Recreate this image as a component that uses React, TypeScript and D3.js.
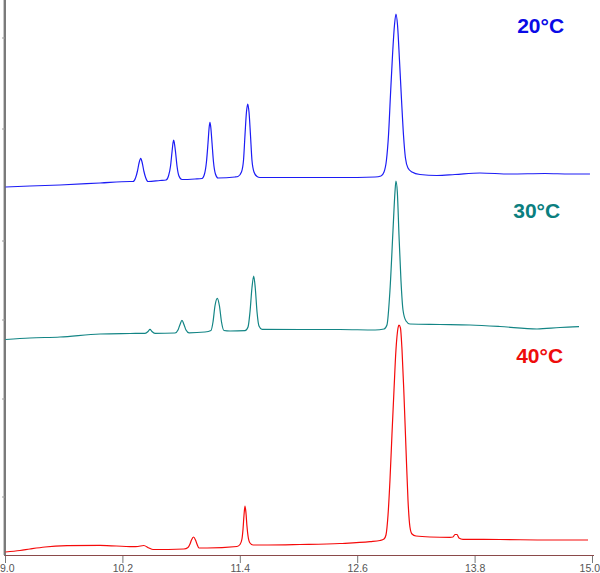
import React from "react";
import * as d3 from "d3";

// Retention time (min) / detector signal pairs
const trace20: [number, number][] = [
  [9.0, 368], [9.25, 369], [9.557, 370], [9.966, 372], [10.273, 373.5], [10.303, 373.5],
  [10.329, 377], [10.349, 384], [10.365, 392], [10.382, 396.7], [10.398, 392], [10.414, 384],
  [10.434, 377], [10.457, 373.5], [10.579, 374.5], [10.641, 375], [10.666, 379], [10.687, 389],
  [10.702, 403], [10.712, 412], [10.719, 415], [10.726, 412], [10.738, 403], [10.753, 389],
  [10.773, 379], [10.804, 375.5], [10.937, 376], [11.008, 376.5], [11.034, 381], [11.054, 393],
  [11.07, 412], [11.082, 428], [11.09, 432.7], [11.098, 428], [11.111, 412], [11.126, 393],
  [11.146, 381], [11.172, 377], [11.346, 378], [11.376, 378.5], [11.412, 383], [11.433, 395],
  [11.448, 420], [11.463, 443], [11.476, 451], [11.489, 443], [11.504, 420], [11.519, 395],
  [11.54, 383], [11.571, 378.5], [11.601, 377.5], [12.01, 377.5], [12.419, 377.5], [12.777, 378],
  [12.838, 379], [12.869, 383], [12.894, 395], [12.915, 420], [12.935, 460], [12.956, 500],
  [12.976, 530], [12.991, 541], [13.007, 530], [13.027, 495], [13.048, 455], [13.068, 420],
  [13.088, 397], [13.114, 387], [13.155, 383], [13.237, 380.5], [13.41, 379.5], [13.594, 380.5],
  [13.85, 382], [14.157, 381], [14.514, 381.5], [14.77, 381], [14.974, 381],
];

const trace30: [number, number][] = [
  [9.0, 215.5], [9.25, 217], [9.557, 218], [9.966, 221], [10.273, 221.5], [10.426, 221.7],
  [10.457, 223.5], [10.477, 225.7], [10.497, 223.5], [10.528, 221.7], [10.733, 222], [10.763, 225],
  [10.784, 230.5], [10.804, 234.7], [10.824, 230.5], [10.845, 225], [10.876, 222.2], [11.039, 223],
  [11.1, 224.5], [11.121, 233], [11.141, 249], [11.165, 256.7], [11.187, 249], [11.208, 233],
  [11.233, 224.5], [11.295, 224], [11.448, 224.3], [11.479, 228], [11.499, 243], [11.519, 267],
  [11.537, 279], [11.553, 267], [11.571, 243], [11.591, 229], [11.622, 225.7], [12.01, 225.5],
  [12.419, 225.5], [12.777, 225], [12.869, 226], [12.899, 230], [12.93, 265], [12.961, 325],
  [12.981, 363], [12.991, 374], [13.005, 363], [13.022, 320], [13.042, 275], [13.063, 245],
  [13.094, 234], [13.134, 231], [13.441, 230.5], [13.748, 230], [14.054, 228.5], [14.433, 226],
  [14.668, 227.5], [14.862, 228.3],
];

const trace40: [number, number][] = [
  [9.0, 3], [9.148, 4.5], [9.25, 6], [9.404, 8], [9.629, 9.3], [9.966, 9.7], [10.303, 8.3],
  [10.354, 8.5], [10.413, 9.5], [10.467, 7], [10.508, 5.5], [10.824, 6], [10.865, 7.5],
  [10.886, 11], [10.901, 15], [10.922, 18], [10.942, 15], [10.957, 11], [10.978, 7], [11.06, 7],
  [11.366, 8.5], [11.397, 10.5], [11.417, 16], [11.428, 26], [11.438, 40], [11.448, 49],
  [11.458, 42], [11.468, 29], [11.479, 19], [11.499, 12], [11.53, 10], [11.683, 10],
  [12.01, 10.5], [12.419, 11.5],
  [12.726, 13.3], [12.828, 14.5], [12.869, 16], [12.889, 20], [12.91, 40], [12.93, 75],
  [12.95, 120], [12.971, 165], [12.991, 205], [13.012, 227], [13.022, 230], [13.037, 227],
  [13.053, 205], [13.073, 160], [13.094, 105], [13.114, 55], [13.134, 28], [13.155, 21],
  [13.196, 19], [13.339, 18], [13.543, 17.7], [13.574, 18], [13.594, 20.5], [13.615, 20.5],
  [13.635, 17], [13.676, 15.7], [14.054, 15.5], [14.565, 15], [14.954, 15],
];

const xTicks = [9.0, 10.2, 11.4, 12.6, 13.8, 15.0];
const yTicks = [58, 156, 235, 314, 426, 517];

const seriesNames = ["20°C", "30°C", "40°C"];
const seriesColors = ["#1c1cf5", "#138585", "#f50a0a"];
const labelColors = ["#0a0ae6", "#0b7f7f", "#ee0c0c"];
const labelPos: [number, number][] = [
  [14.23, 522],
  [14.19, 337],
  [14.22, 192.5],
];

export default function App() {
  const W = 600;
  const H = 573;
  const x = d3.scaleLinear().domain([9, 15]).range([5.5, 592.5]);
  const y = d3.scaleLinear().domain([0, 550]).range([555, 5]);
  const line = d3
    .line<[number, number]>()
    .x((d) => x(d[0]))
    .y((d) => y(d[1]))
    .curve(d3.curveMonotoneX);
  const traces = [trace20, trace30, trace40];

  return (
    <svg
      width={W}
      height={H}
      style={{ position: "absolute", left: 0, top: 0, background: "#fff" }}
      fontFamily="'Liberation Sans', Arial, sans-serif"
    >
      {/* left axis */}
      <line x1={3.5} x2={3.5} y1={0} y2={555} stroke="#c8c8c8" strokeWidth={1} />
      <line x1={5} x2={5} y1={0} y2={556} stroke="#333" strokeWidth={1.3} />
      {yTicks.map((v) => (
        <line key={v} x1={2} x2={5} y1={y(v)} y2={y(v)} stroke="#9a9a9a" strokeWidth={1} />
      ))}
      {/* bottom axis */}
      <line x1={5} x2={594} y1={555.5} y2={555.5} stroke="#8a4a4a" strokeWidth={1.2} />
      {xTicks.map((t, i) => {
        const first = i === 0;
        const last = i === xTicks.length - 1;
        return (
          <g key={t}>
            <line x1={x(t)} x2={x(t)} y1={556} y2={563} stroke="#777" strokeWidth={1} />
            <text
              x={first ? 0 : last ? W : x(t)}
              y={572}
              textAnchor={first ? "start" : last ? "end" : "middle"}
              fontSize={10.5}
              fill="#555"
            >
              {t.toFixed(1)}
            </text>
          </g>
        );
      })}
      {traces.map((tr, i) => (
        <path
          key={seriesNames[i]}
          d={line(tr) || ""}
          fill="none"
          stroke={seriesColors[i]}
          strokeWidth={1.2}
          strokeLinejoin="round"
        />
      ))}
      {seriesNames.map((name, i) => (
        <text
          key={name}
          x={x(labelPos[i][0])}
          y={y(labelPos[i][1])}
          fontSize={21}
          fontWeight="bold"
          fill={labelColors[i]}
        >
          {name}
        </text>
      ))}
    </svg>
  );
}
